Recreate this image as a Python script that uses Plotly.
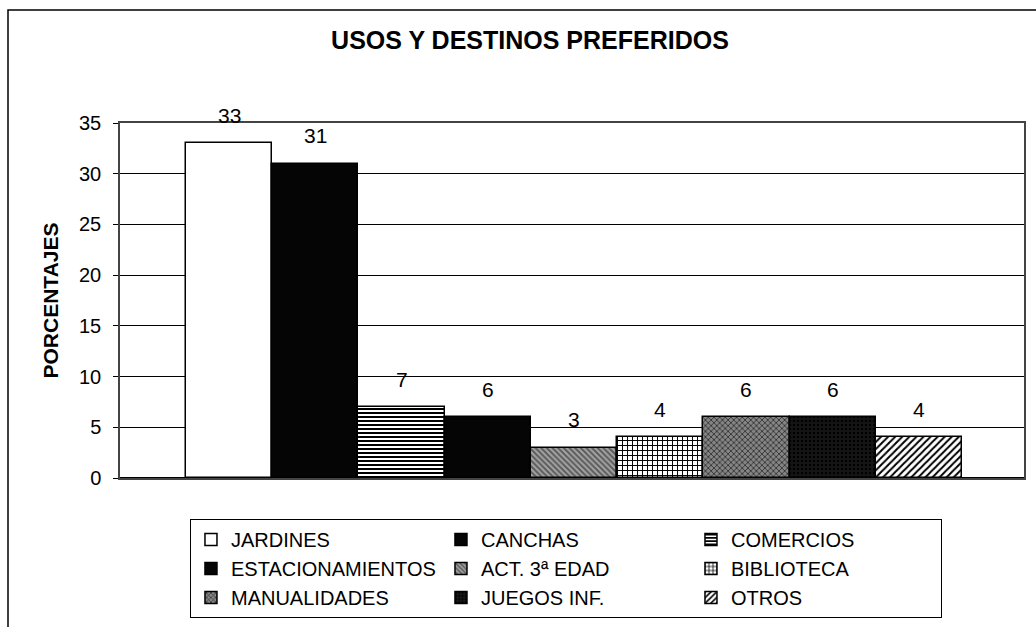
import plotly.graph_objects as go

categories = ["JARDINES", "CANCHAS", "COMERCIOS", "ESTACIONAMIENTOS", "ACT. 3ª EDAD",
              "BIBLIOTECA", "MANUALIDADES", "JUEGOS INF.", "OTROS"]
values = [33, 31, 7, 6, 3, 4, 6, 6, 4]
y_ticks = [0, 5, 10, 15, 20, 25, 30, 35]

# style per series: (shape, fgcolor, bgcolor, size, solidity)
styles = [
    ("", "#000000", "#ffffff", 8, 0.3),
    ("", "#000000", "#050505", 8, 0.3),
    ("-", "#000000", "#ffffff", 4, 0.5),
    ("", "#000000", "#050505", 8, 0.3),
    ("\\", "#555555", "#a0a0a0", 4, 0.45),
    ("+", "#000000", "#ffffff", 5, 0.35),
    ("x", "#333333", "#858585", 4, 0.4),
    (".", "#000000", "#151515", 4, 0.3),
    ("/", "#000000", "#ffffff", 5, 0.4),
]

FONT = "Liberation Sans, Arial, sans-serif"

fig = go.Figure()
for i, (name, v) in enumerate(zip(categories, values)):
    shape, fg, bg, sz, sol = styles[i]
    marker = dict(color=bg, line=dict(color="#000000", width=1.5))
    if shape:
        marker["pattern"] = dict(shape=shape, fgcolor=fg, bgcolor=bg, size=sz,
                                 solidity=sol, fillmode="replace")
    fig.add_trace(go.Bar(x=[i], y=[v], width=1, name=name, marker=marker,
                         hoverinfo="name+y"))
    fig.add_annotation(x=i, y=v, text=str(v), showarrow=False, yanchor="middle",
                       yshift=28, font=dict(family=FONT, size=21, color="#000"))

fig.update_layout(
    width=1036, height=627,
    margin=dict(l=120, r=12, t=123, b=149, autoexpand=False),
    paper_bgcolor="white", plot_bgcolor="white",
    font=dict(family=FONT, color="#000"),
    title=dict(text="<b>USOS Y DESTINOS PREFERIDOS</b>", x=530 / 1036, xanchor="center",
               y=1 - 40.5 / 627, yanchor="middle", yref="container",
               font=dict(family=FONT, size=25, color="#000")),
    showlegend=True,
    legend=dict(orientation="h", x=0.0774, xanchor="left", y=-0.1155, yanchor="top",
                entrywidth=205, entrywidthmode="pixels",
                bordercolor="#000", borderwidth=1, bgcolor="white",
                font=dict(family=FONT, size=20, color="#000"),
                itemclick=False, itemdoubleclick=False),
    bargap=0,
)
fig.update_xaxes(range=[-1.2655, 9.219], showticklabels=False, ticks="",
                 showgrid=False, zeroline=False, showline=True, linecolor="#444",
                 linewidth=1.5, mirror=True, fixedrange=True)
fig.update_yaxes(range=[0, 35], tickvals=y_ticks, ticks="outside", ticklen=5,
                 tickcolor="#000", showgrid=True, gridcolor="#000", gridwidth=1,
                 zeroline=True, zerolinecolor="#000", zerolinewidth=2,
                 showline=True, linecolor="#444", linewidth=1.5, mirror=True,
                 ticklabelstandoff=8,
                 tickfont=dict(family=FONT, size=20, color="#000"),
                 title=dict(text="<b>PORCENTAJES</b>", standoff=15,
                            font=dict(family=FONT, size=21, color="#000")),
                 fixedrange=True)

# outer chart border
fig.add_shape(type="rect", xref="paper", yref="paper",
              x0=(8 - 120) / 904, x1=(1045 - 120) / 904,
              y0=(478 - 640) / 355, y1=(478 - 10) / 355,
              line=dict(color="#000", width=1.5), fillcolor="rgba(0,0,0,0)",
              layer="above")

fig.write_html("out.html", config={"displayModeBar": False},
               post_script="document.body.style.margin='0px';")
